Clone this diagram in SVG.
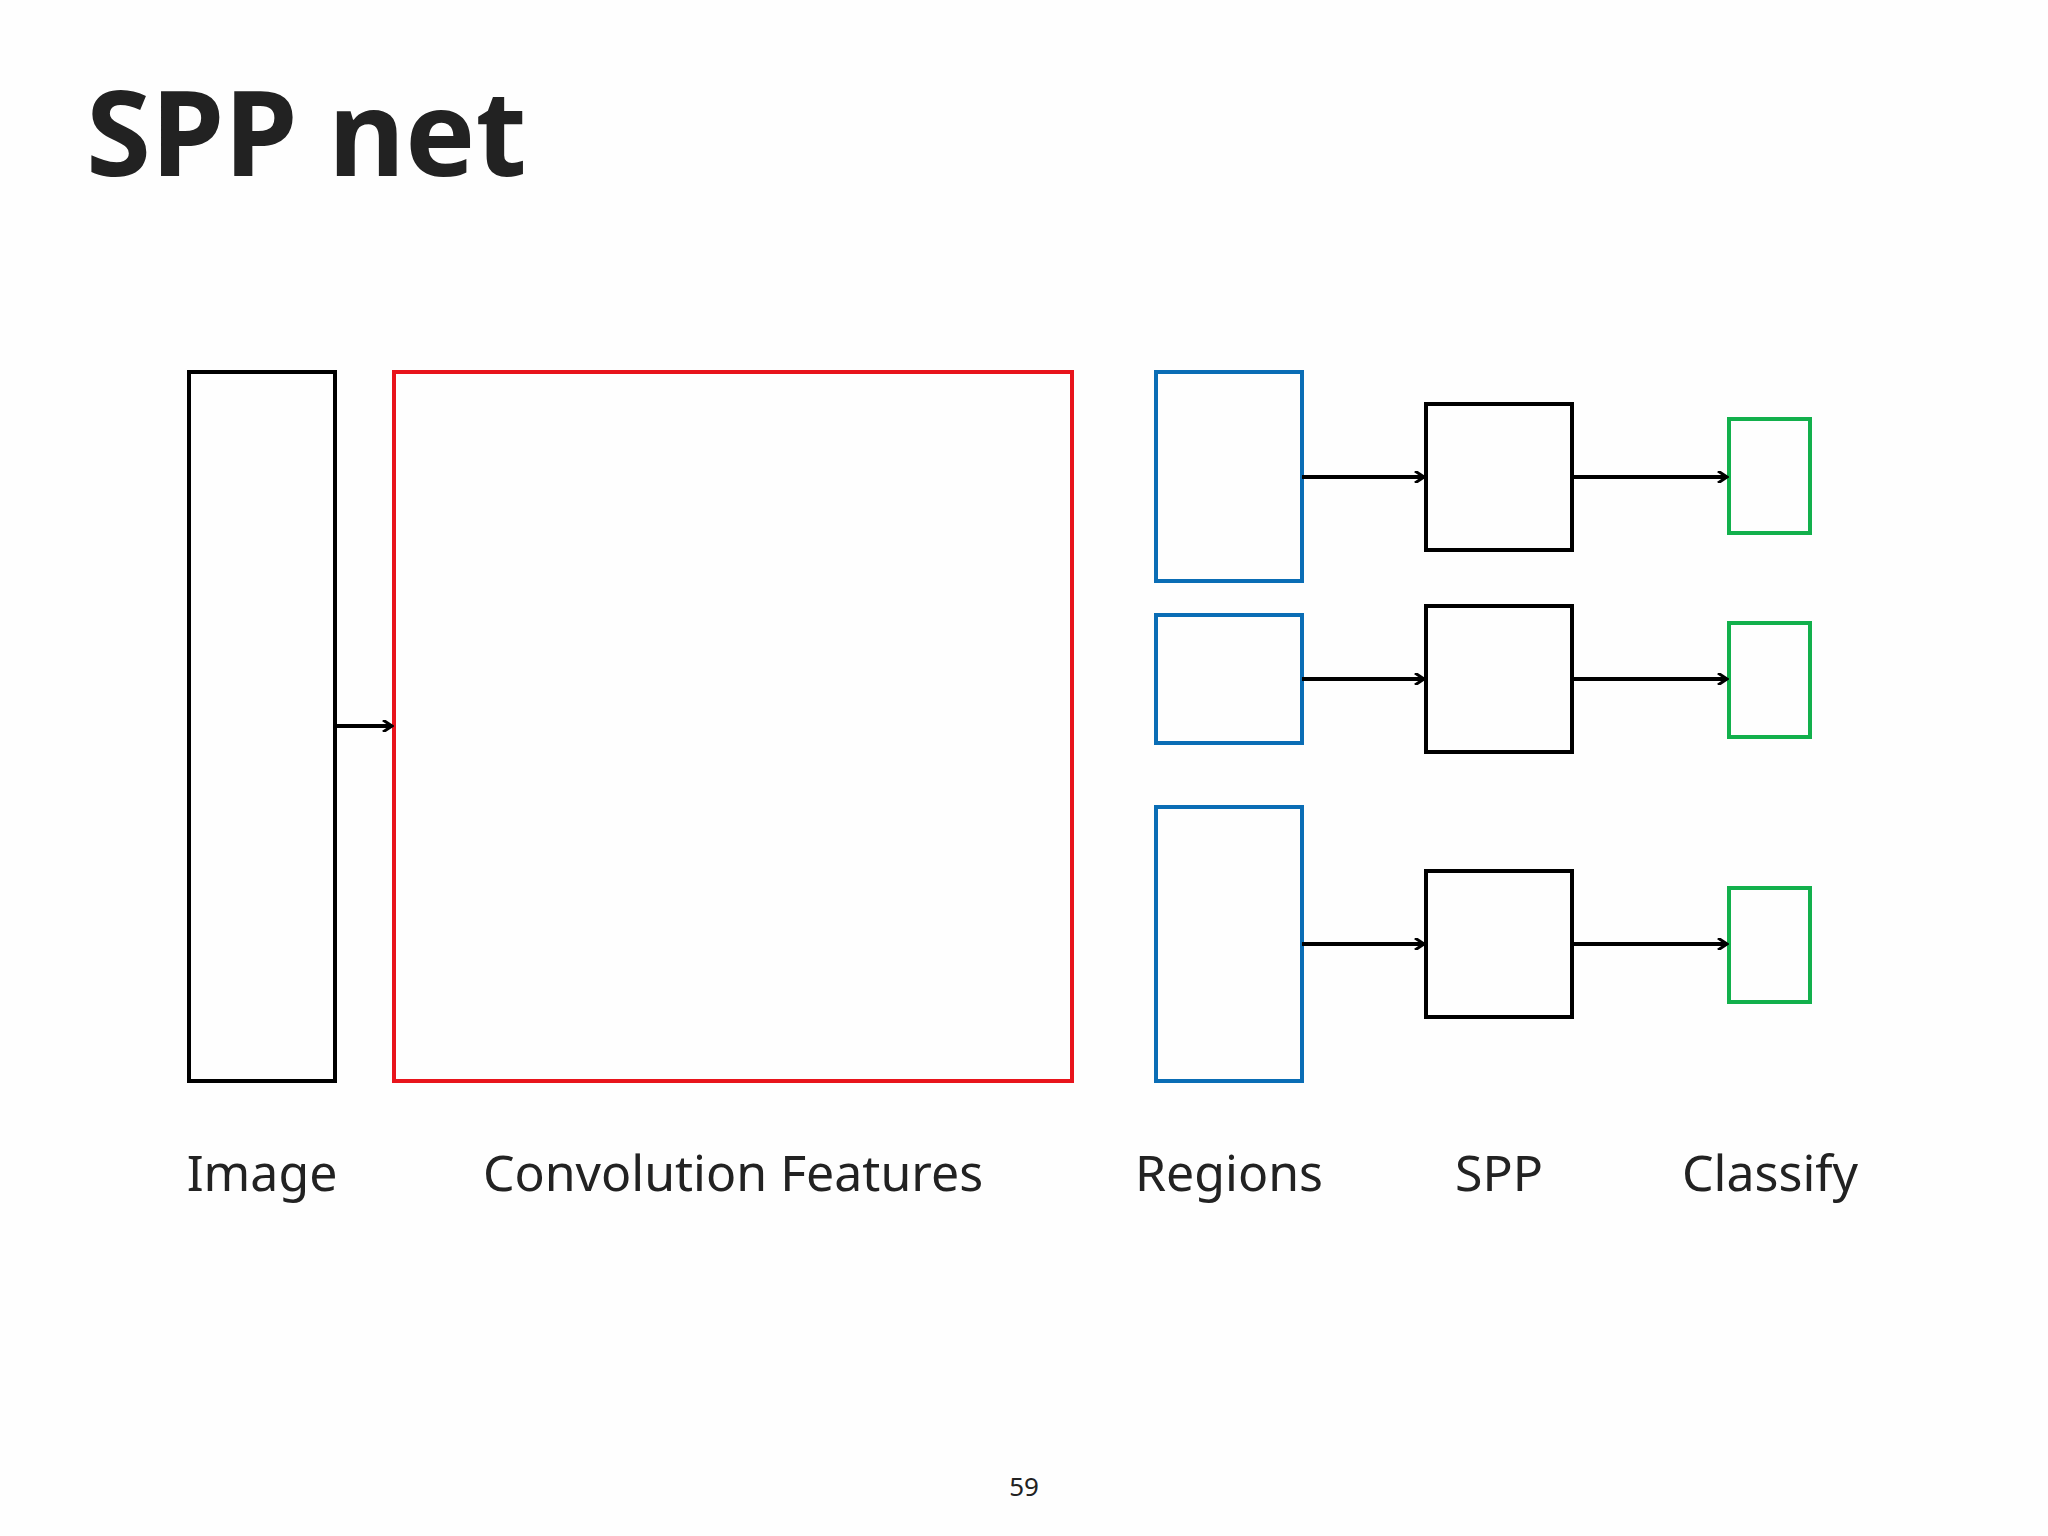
<svg xmlns="http://www.w3.org/2000/svg" width="2048" height="1536" viewBox="0 0 2048 1536">
<defs>
<style>
.t{font-family:"Noto Sans","Noto Sans CJK KR",sans-serif;fill:#222}
.lb{font-size:50px;text-anchor:middle}
rect{fill:#fefefe;stroke-width:4}
.k{stroke:#000}.r{stroke:#e8141c}.b{stroke:#0a6db5}.g{stroke:#12b04c}
.c line{stroke:#000;stroke-width:4;marker-end:url(#a)}
</style>
<marker id="a" markerWidth="12" markerHeight="12" refX="10" refY="6" orient="auto" markerUnits="userSpaceOnUse"><path d="M1,0 L10,6 L1,12" fill="none" stroke="#000" stroke-width="3"/></marker>
</defs>
<rect width="2048" height="1536" fill="#fff" stroke="none"/>
<text class="t" x="86" y="176" font-size="118" font-weight="bold">SPP net</text>
<g id="image"><rect class="k" x="189" y="372" width="146" height="709"/></g>
<g id="conv"><rect class="r" x="394" y="372" width="678" height="709"/></g>
<g id="r1"><rect class="b" x="1156" y="372" width="146" height="209"/></g>
<g id="r2"><rect class="b" x="1156" y="615" width="146" height="128"/></g>
<g id="r3"><rect class="b" x="1156" y="807" width="146" height="274"/></g>
<g id="s1"><rect class="k" x="1426" y="404" width="146" height="146"/></g>
<g id="s2"><rect class="k" x="1426" y="606" width="146" height="146"/></g>
<g id="s3"><rect class="k" x="1426" y="871" width="146" height="146"/></g>
<g id="c1"><rect class="g" x="1729" y="419" width="81" height="114"/></g>
<g id="c2"><rect class="g" x="1729" y="623" width="81" height="114"/></g>
<g id="c3"><rect class="g" x="1729" y="888" width="81" height="114"/></g>
<g class="c" id="connectors">
<line x1="336" y1="726" x2="392" y2="726"/>
<line x1="1302" y1="477" x2="1424" y2="477"/>
<line x1="1572" y1="477" x2="1727" y2="477"/>
<line x1="1302" y1="679" x2="1424" y2="679"/>
<line x1="1572" y1="679" x2="1727" y2="679"/>
<line x1="1302" y1="944" x2="1424" y2="944"/>
<line x1="1572" y1="944" x2="1727" y2="944"/>
</g>
<text class="t lb" x="262" y="1191">Image</text>
<text class="t lb" x="733" y="1191">Convolution Features</text>
<text class="t lb" x="1229" y="1191">Regions</text>
<text class="t lb" x="1499" y="1191">SPP</text>
<text class="t lb" x="1770" y="1191">Classify</text>
<text class="t" x="1024" y="1496" font-size="26" text-anchor="middle">59</text>
</svg>
